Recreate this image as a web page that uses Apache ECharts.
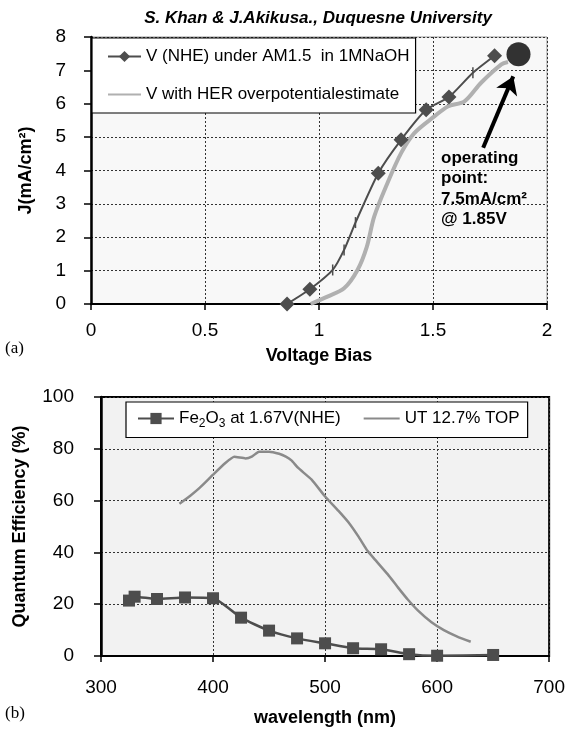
<!DOCTYPE html>
<html>
<head>
<meta charset="utf-8">
<script src="https://cdn.jsdelivr.net/npm/echarts@6/dist/echarts.min.js"></script>
<style>html,body{margin:0;padding:0;background:#fff}#c{width:568px;height:730px}</style>
</head>
<body>
<div id="c"></div>
<script>
// ---- Panel (a) data ----
const biasMeasured = [0.86, 0.96, 1.06, 1.11, 1.16, 1.26, 1.36, 1.47, 1.57, 1.675, 1.77];
const jMeasured    = [0, 0.44, 1.02, 1.62, 2.44, 3.92, 4.92, 5.82, 6.2, 6.93, 7.44];
const markerKind   = ['d','d','t','t','t','d','d','d','d','t','d'];
const biasHER = [0.963, 1.037, 1.11, 1.169, 1.21, 1.242, 1.30, 1.36, 1.418, 1.506, 1.565, 1.638, 1.711, 1.80, 1.829];
const jHER    = [0, 0.22, 0.47, 1.02, 1.72, 2.62, 3.62, 4.52, 5.12, 5.62, 5.92, 6.07, 6.63, 7.18, 7.25];
const opPoint = [1.875, 7.48];
const arrowFrom = [1.72, 4.68];
const arrowTo = [1.852, 6.82];
const xTicksA = [0, 0.5, 1, 1.5, 2];
const yTicksA = [0, 1, 2, 3, 4, 5, 6, 7, 8];

// ---- Panel (b) data ----
const wlFe = [325, 330, 350, 375, 400, 425, 450, 475, 500, 525, 550, 575, 600, 650];
const qeFe = [21.4, 22.9, 22.0, 22.6, 22.3, 14.8, 9.8, 6.8, 4.9, 3.0, 2.6, 0.7, 0.1, 0.4];
const wlUT = [370, 380, 388, 400, 411, 419, 429, 435, 441, 450, 459, 465, 470, 476, 488, 500, 512, 522, 530, 538, 545, 556, 565, 574, 583, 595, 606, 618, 630];
const qeUT = [58.8, 62, 64.9, 70, 74.5, 76.9, 76.3, 77.1, 78.9, 78.9, 78.1, 77, 75.5, 72.6, 68.1, 61.6, 56, 51, 46, 40.5, 37, 31.5, 26.5, 21.7, 17.5, 13, 10, 7.5, 5.5];
const xTicksB = [300, 400, 500, 600, 700];
const yTicksB = [0, 20, 40, 60, 80, 100];

const FONT = 'Liberation Sans';
const DARK = '#4d4d4d';
const LIGHT = '#b0b0b0';
const MID = '#8a8a8a';

const chart = echarts.init(document.getElementById('c'), null, {renderer: 'canvas'});

const measuredData = biasMeasured.map((x, i) => {
  const item = {value: [x, jMeasured[i]]};
  if (markerKind[i] === 't') { item.symbol = 'rect'; item.symbolSize = [1.5, 11]; }
  return item;
});

const axisLabelStyle = {fontFamily: FONT, fontSize: 19, color: '#000'};
const nameStyle = {fontFamily: FONT, fontSize: 18, fontWeight: 'bold', color: '#000'};
const dotted = {show: true, lineStyle: {type: [2, 2], color: '#333', width: 1}};
const hiddenMarker = {opacity: 0, color: 'rgba(0,0,0,0)', borderWidth: 0};

chart.setOption({
  animation: false,
  backgroundColor: '#fff',
  grid: [
    {left: 91, top: 37, width: 456, height: 267, show: true, backgroundColor: '#f8f8f8', borderColor: '#999', borderWidth: 1},
    {left: 101, top: 397, width: 451, height: 259, show: true, backgroundColor: '#f2f2f2', borderColor: '#000', borderWidth: 2}
  ],
  xAxis: [
    {gridIndex: 0, type: 'value', min: xTicksA[0], max: xTicksA[xTicksA.length - 1], interval: 0.5,
     name: 'Voltage Bias', nameLocation: 'middle', nameGap: 43, nameTextStyle: nameStyle,
     axisLine: {lineStyle: {color: '#000', width: 2}}, axisTick: {length: 6, lineStyle: {color: '#000', width: 1.5}},
     axisLabel: Object.assign({margin: 17}, axisLabelStyle), splitLine: dotted},
    {gridIndex: 1, type: 'value', min: xTicksB[0], max: xTicksB[xTicksB.length - 1], interval: 100,
     name: 'wavelength (nm)', nameLocation: 'middle', nameGap: 53, nameTextStyle: nameStyle,
     axisLine: {lineStyle: {color: '#000', width: 2}}, axisTick: {length: 6, lineStyle: {color: '#000', width: 1.5}},
     axisLabel: Object.assign({margin: 22}, axisLabelStyle), splitLine: dotted}
  ],
  yAxis: [
    {gridIndex: 0, type: 'value', min: yTicksA[0], max: yTicksA[yTicksA.length - 1], interval: 1,
     name: 'J(mA/cm²)', nameLocation: 'middle', nameGap: 56, nameTextStyle: nameStyle,
     axisLine: {show: true, lineStyle: {color: '#000', width: 2.5}}, axisTick: {show: true, length: 7, lineStyle: {color: '#000', width: 1.5}},
     axisLabel: Object.assign({margin: 25}, axisLabelStyle), splitLine: dotted},
    {gridIndex: 1, type: 'value', min: yTicksB[0], max: yTicksB[yTicksB.length - 1], interval: 20,
     name: 'Quantum Efficiency (%)', nameLocation: 'middle', nameGap: 72, nameTextStyle: nameStyle,
     axisLine: {show: true, lineStyle: {color: '#000', width: 2.5}}, axisTick: {show: true, length: 7, lineStyle: {color: '#000', width: 1.5}},
     axisLabel: Object.assign({margin: 27}, axisLabelStyle), splitLine: dotted}
  ],
  legend: [
    {data: ['V (NHE) under AM1.5  in 1MNaOH', {name: 'V with HER overpotentialestimate', itemStyle: hiddenMarker}],
     orient: 'vertical', left: 92, top: 38, padding: [10, 6, 10, 15], itemGap: 21,
     itemWidth: 33, itemHeight: 14, backgroundColor: '#fff', borderColor: '#000', borderWidth: 1.2,
     textStyle: {fontFamily: FONT, fontSize: 17, color: '#000'}},
    {data: ['Fe2O3', {name: 'UT 12.7% TOP', itemStyle: hiddenMarker}],
     orient: 'horizontal', left: 126, top: 402, padding: [8, 8, 8, 11], itemGap: 22,
     itemWidth: 36, itemHeight: 14, backgroundColor: '#fff', borderColor: '#000', borderWidth: 1.2,
     formatter: n => n === 'Fe2O3' ? 'Fe{s|2}O{s|3} at 1.67V(NHE)' : n,
     textStyle: {fontFamily: FONT, fontSize: 17, color: '#000',
       rich: {s: {fontFamily: FONT, fontSize: 12, color: '#000', padding: [10, 0, 0, 0]}}}}
  ],
  graphic: [
    {type: 'text', x: 318, y: 10, style: {text: 'S. Khan & J.Akikusa., Duquesne University', fontFamily: FONT, fontSize: 17, fontWeight: 'bold', fontStyle: 'italic', fill: '#000', textAlign: 'center'}, z: 100},
    {type: 'text', left: 441, top: 148, style: {text: 'operating\npoint:\n7.5mA/cm²\n@ 1.85V', fontFamily: FONT, fontSize: 17, fontWeight: 'bold', fill: '#000', lineHeight: 20.5}, z: 100},
    {type: 'text', left: 5, top: 340, style: {text: '(a)', fontFamily: 'Liberation Serif', fontSize: 17, fill: '#000'}},
    {type: 'text', left: 5, top: 705, style: {text: '(b)', fontFamily: 'Liberation Serif', fontSize: 17, fill: '#000'}}
  ],
  series: [
    {name: 'V with HER overpotentialestimate', type: 'line', xAxisIndex: 0, yAxisIndex: 0,
     data: biasHER.map((x, i) => [x, jHER[i]]), symbol: 'none', smooth: 0.3,
     lineStyle: {color: LIGHT, width: 4}, itemStyle: {color: LIGHT}, z: 3},
    {name: 'V (NHE) under AM1.5  in 1MNaOH', type: 'line', xAxisIndex: 0, yAxisIndex: 0,
     data: measuredData, symbol: 'diamond', symbolSize: 15, smooth: 0.2,
     lineStyle: {color: DARK, width: 2}, itemStyle: {color: DARK}, z: 4},
    {name: 'operating', type: 'scatter', xAxisIndex: 0, yAxisIndex: 0,
     data: [opPoint], symbol: 'circle', symbolSize: 24, itemStyle: {color: '#000'}, z: 5,
     markLine: {silent: true, symbol: ['none', 'arrow'], symbolSize: 17, label: {show: false},
       lineStyle: {color: '#000', width: 4, type: 'solid'},
       data: [[{coord: arrowFrom}, {coord: arrowTo}]]}},
    {name: 'Fe2O3', type: 'line', xAxisIndex: 1, yAxisIndex: 1,
     data: wlFe.map((x, i) => [x, qeFe[i]]), symbol: 'rect', symbolSize: 12, smooth: 0.2,
     lineStyle: {color: DARK, width: 2.5}, itemStyle: {color: DARK}, z: 4},
    {name: 'UT 12.7% TOP', type: 'line', xAxisIndex: 1, yAxisIndex: 1,
     data: wlUT.map((x, i) => [x, qeUT[i]]), symbol: 'none', smooth: 0.15,
     lineStyle: {color: MID, width: 2.5}, itemStyle: {color: MID}, z: 3}
  ]
});
</script>
</body>
</html>
